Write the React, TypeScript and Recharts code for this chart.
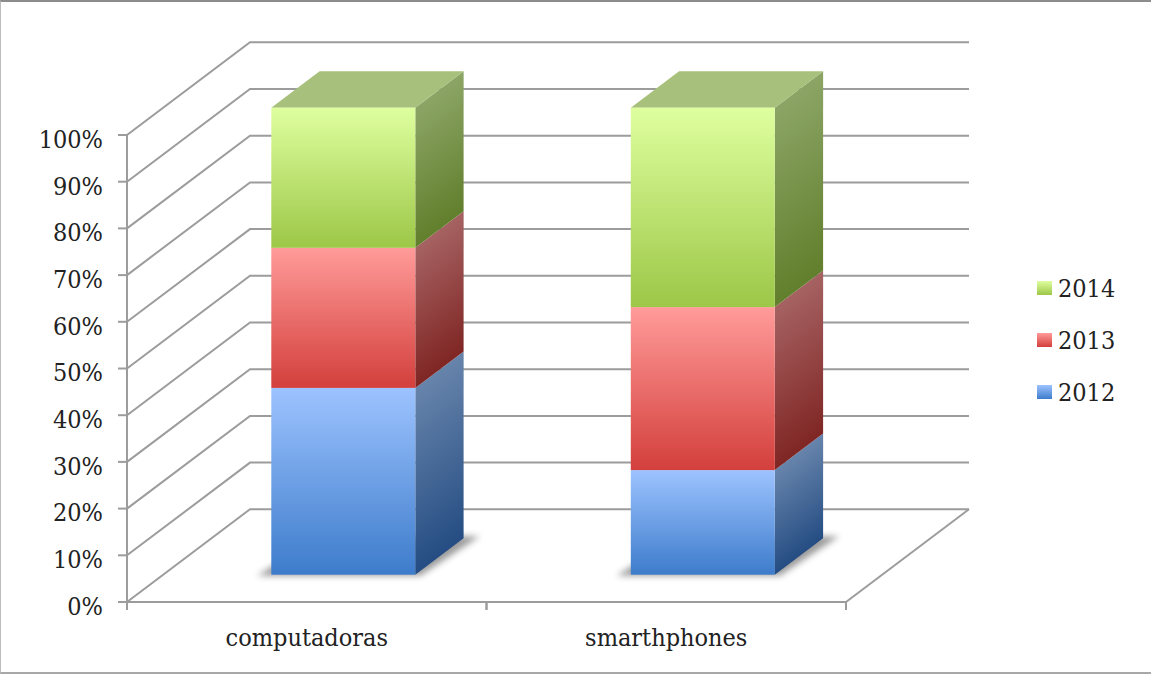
import React from 'react';
import { BarChart, Bar, XAxis, YAxis, CartesianGrid, Legend } from 'recharts';

const CATEGORIES = ['computadoras', 'smarthphones'];
const SERIES_2012 = [40, 22.4];
const SERIES_2013 = [30, 34.9];
const SERIES_2014 = [30, 42.7];
const Y_TICKS = [0, 10, 20, 30, 40, 50, 60, 70, 80, 90, 100];

const chartData = CATEGORIES.map((name, i) => ({
  name,
  '2012': SERIES_2012[i],
  '2013': SERIES_2013[i],
  '2014': SERIES_2014[i],
}));

const WIDTH = 1151;
const HEIGHT = 674;
const PLOT = { left: 127, right: 846, top: 135, bottom: 602 };
const BAND = (PLOT.right - PLOT.left) / CATEGORIES.length;
const LEGEND_WIDTH = 100;

// Oblique projection: the back wall sits up and to the right of the floor's front edge
const WALL_DX = 123;
const WALL_DY = -92.7;
// Bars stand a little way into the floor and have their own depth
const BAR_DX = 36.3;
const BAR_DY = -27.3;
const DEPTH_DX = 48.3;
const DEPTH_DY = -36.5;

const GRID_COLOR = '#9c9c9c';
const AXIS_COLOR = '#9c9c9c';
const TEXT_COLOR = '#222222';
const FONT = '"DejaVu Serif Condensed", "DejaVu Serif", serif';
const FONT_SIZE = 25;

const PALETTE: Record<string, { front: [string, string]; side: [string, string]; top: string }> = {
  '2012': { front: ['#9dc3ff', '#3d7ccb'], side: ['#6784ab', '#254d83'], top: '#7f9cc4' },
  '2013': { front: ['#ff9b99', '#d33f3c'], side: ['#a66262', '#7f2624'], top: '#c48080' },
  '2014': { front: ['#dfff9f', '#9cc747'], side: ['#8ca566', '#617f2c'], top: '#a7c07b' },
};

function GridLine(props: any) {
  const { x1, x2, y1, index } = props;
  const backY = y1 + WALL_DY;
  const isFloor = Math.abs(y1 - PLOT.bottom) < 1;
  return (
    <g key={`grid-${index}`} fill="none" stroke={GRID_COLOR} strokeWidth={2}>
      <polyline points={`${x1},${y1} ${x1 + WALL_DX},${backY} ${x2 + WALL_DX},${backY}`} />
      {isFloor && <line x1={x2} y1={y1} x2={x2 + WALL_DX} y2={backY} />}
    </g>
  );
}

function Box3D(props: any) {
  const { x, y, width, height, seriesKey, showTop, showShadow } = props;
  const fx = x + BAR_DX;
  const fy = y + BAR_DY;
  const skew = (Math.atan2(DEPTH_DY, DEPTH_DX) * 180) / Math.PI;
  const base = fy + height;
  return (
    <g>
      {showShadow && (
        <polygon
          points={`${fx - 14},${base + 1} ${fx + width + 5},${base + 1} ${fx + width + DEPTH_DX + 16},${base + DEPTH_DY - 2} ${fx + DEPTH_DX},${base + DEPTH_DY - 2}`}
          fill="#666666"
          opacity={0.65}
          filter="url(#floorShadow)"
        />
      )}
      <rect
        x={0}
        y={0}
        width={DEPTH_DX}
        height={height}
        fill={`url(#side${seriesKey})`}
        transform={`translate(${fx + width},${fy}) skewY(${skew})`}
      />
      {showTop && (
        <polygon
          points={`${fx},${fy} ${fx + width},${fy} ${fx + width + DEPTH_DX},${fy + DEPTH_DY} ${fx + DEPTH_DX},${fy + DEPTH_DY}`}
          fill={PALETTE[seriesKey].top}
        />
      )}
      <rect x={fx} y={fy} width={width} height={height} fill={`url(#front${seriesKey})`} />
    </g>
  );
}

function CategoryTick(props: any) {
  const { x, payload } = props;
  return (
    <g>
      <line x1={x - BAND / 2} y1={PLOT.bottom} x2={x - BAND / 2} y2={PLOT.bottom + 8} stroke={AXIS_COLOR} strokeWidth={2} />
      <line x1={x + BAND / 2} y1={PLOT.bottom} x2={x + BAND / 2} y2={PLOT.bottom + 8} stroke={AXIS_COLOR} strokeWidth={2} />
      <text x={x} y={PLOT.bottom + 44} textAnchor="middle" fontFamily={FONT} fontSize={FONT_SIZE} fill={TEXT_COLOR}>
        {payload.value}
      </text>
    </g>
  );
}

function LegendBox({ payload }: any) {
  const items = [...(payload || [])].sort((a: any, b: any) => Number(b.value) - Number(a.value));
  return (
    <div>
      {items.map((item: any) => {
        const [from, to] = PALETTE[item.value].front;
        return (
          <div key={item.value} style={{ display: 'flex', alignItems: 'center', height: 52 }}>
            <span
              style={{
                width: 15,
                height: 14,
                marginRight: 6,
                background: `linear-gradient(${from}, ${to})`,
              }}
            />
            <span style={{ fontFamily: FONT, fontSize: FONT_SIZE, color: TEXT_COLOR }}>{item.value}</span>
          </div>
        );
      })}
    </div>
  );
}

export default function App() {
  return (
    <div
      style={{
        position: 'fixed',
        left: 0,
        top: 0,
        width: WIDTH,
        height: HEIGHT,
        boxSizing: 'border-box',
        background: '#fff',
        borderTop: '2px solid #8c8c8c',
        borderLeft: '1px solid #bcbcbc',
        borderBottom: '2px solid #a8a8a8',
      }}
    >
      <div style={{ position: 'absolute', left: -1, top: -2 }}>
        <BarChart
          width={WIDTH}
          height={HEIGHT}
          data={chartData}
          margin={{ left: 0, right: WIDTH - PLOT.right - LEGEND_WIDTH, top: PLOT.top, bottom: 0 }}
        >
          <defs>
            {Object.keys(PALETTE).map((key) => (
              <React.Fragment key={key}>
                <linearGradient id={`front${key}`} x1="0" y1="0" x2="0" y2="1">
                  <stop offset="0%" stopColor={PALETTE[key].front[0]} />
                  <stop offset="100%" stopColor={PALETTE[key].front[1]} />
                </linearGradient>
                <linearGradient id={`side${key}`} x1="0" y1="0" x2="0" y2="1">
                  <stop offset="0%" stopColor={PALETTE[key].side[0]} />
                  <stop offset="100%" stopColor={PALETTE[key].side[1]} />
                </linearGradient>
              </React.Fragment>
            ))}
            <filter id="floorShadow" x="-20%" y="-40%" width="140%" height="180%">
              <feGaussianBlur stdDeviation="3" />
            </filter>
          </defs>
          <CartesianGrid vertical={false} horizontal={GridLine} />
          <XAxis
            dataKey="name"
            axisLine={{ stroke: AXIS_COLOR, strokeWidth: 2 }}
            tickLine={false}
            height={HEIGHT - PLOT.bottom}
            interval={0}
            tick={CategoryTick}
          />
          <YAxis
            width={PLOT.left}
            domain={[0, 100]}
            ticks={Y_TICKS}
            interval={0}
            axisLine={{ stroke: AXIS_COLOR, strokeWidth: 2 }}
            tickLine={{ stroke: AXIS_COLOR, strokeWidth: 2 }}
            tickSize={9}
            tickMargin={15}
            tickFormatter={(v: number) => `${v}%`}
            tick={{ fontFamily: FONT, fontSize: FONT_SIZE, fill: TEXT_COLOR, dy: 4 }}
          />
          <Legend
            layout="vertical"
            align="right"
            verticalAlign="top"
            content={LegendBox}
            wrapperStyle={{ left: 1037, top: 262, width: LEGEND_WIDTH }}
          />
          <Bar
            dataKey="2012"
            stackId="share"
            barSize={144}
            isAnimationActive={false}
            shape={(p: any) => <Box3D {...p} seriesKey="2012" showShadow />}
          />
          <Bar
            dataKey="2013"
            stackId="share"
            barSize={144}
            isAnimationActive={false}
            shape={(p: any) => <Box3D {...p} seriesKey="2013" />}
          />
          <Bar
            dataKey="2014"
            stackId="share"
            barSize={144}
            isAnimationActive={false}
            shape={(p: any) => <Box3D {...p} seriesKey="2014" showTop />}
          />
        </BarChart>
      </div>
    </div>
  );
}
